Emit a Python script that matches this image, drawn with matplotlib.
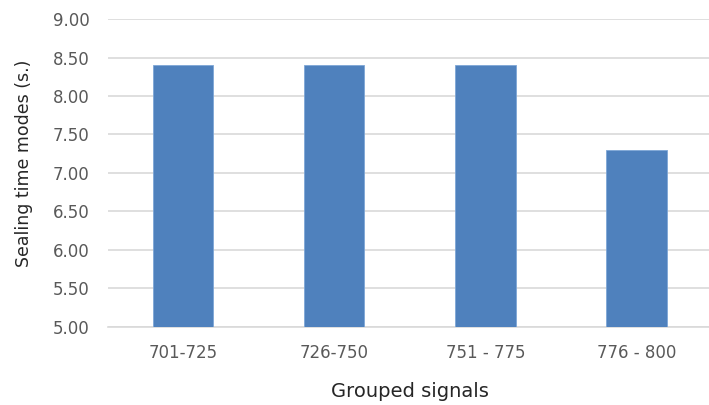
import matplotlib.pyplot as plt
import numpy as np

# Sealing time mode per signal group
groups = ['701-725', '726-750', '751 - 775', '776 - 800']
sealing_modes = [8.40, 8.40, 8.40, 7.30]
y_ticks = [5.00, 5.50, 6.00, 6.50, 7.00, 7.50, 8.00, 8.50, 9.00]

plt.rcParams['font.family'] = ['DejaVu Sans']

fig = plt.figure(figsize=(7.09, 4.05), dpi=100)
ax = fig.add_axes([0.152, 0.193, 0.852, 0.760])

x = np.arange(len(groups))
ax.bar(x, sealing_modes, width=0.4, color='#4F81BD', edgecolor='#7EA6D6',
       linewidth=0.6, zorder=3)

ax.set_ylim(5, 9)
ax.set_xlim(-0.5, len(groups) - 0.5)
ax.set_yticks(y_ticks)
ax.set_yticklabels([f'{v:.2f}' for v in y_ticks])
ax.set_xticks(x)
ax.set_xticklabels(groups)

ax.grid(axis='y', color='#D9D9D9', linewidth=1.2, zorder=0)
for side in ['top', 'right', 'left']:
    ax.spines[side].set_visible(False)
ax.spines['bottom'].set_color('#D9D9D9')
ax.spines['bottom'].set_linewidth(1.2)

ax.tick_params(axis='both', length=0, labelsize=12, labelcolor='#595959')
ax.tick_params(axis='x', pad=12)
ax.tick_params(axis='y', pad=13)

ax.set_xlabel('Grouped signals', fontsize=14, color='#262626', labelpad=15)
ax.set_ylabel('Sealing time modes (s.)', fontsize=12.5, color='#262626')
ax.yaxis.set_label_coords(-0.124, 0.53)

plt.savefig('out.png', dpi=100)
